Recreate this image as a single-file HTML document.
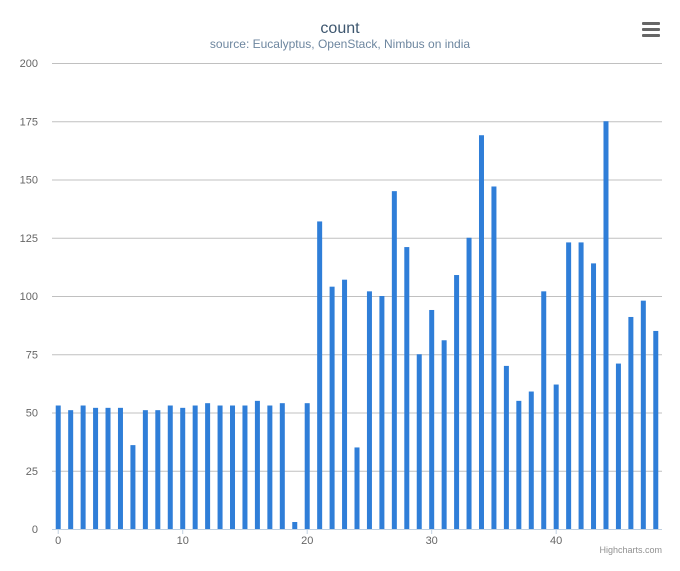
<!DOCTYPE html>
<html><head><meta charset="utf-8"><style>
body{margin:0;background:#fff;font-family:"Liberation Sans","DejaVu Sans",sans-serif}
</style></head><body>
<svg width="680" height="566" xmlns="http://www.w3.org/2000/svg">
<rect width="680" height="566" fill="#fff"/>
<text x="340" y="33" text-anchor="middle" font-size="16" fill="#3e576f">count</text>
<text x="340" y="48" text-anchor="middle" font-size="12" fill="#6d869f">source: Eucalyptus, OpenStack, Nimbus on india</text>
<g>
<rect x="642" y="22" width="18" height="3" rx="1" fill="#666"/><rect x="642" y="28" width="18" height="3" rx="1" fill="#666"/><rect x="642" y="34" width="18" height="3" rx="1" fill="#666"/>
</g>
<g id="grid"></g><g id="bars"></g><g id="labels"></g>
<text x="662" y="553" text-anchor="end" font-size="9" fill="#909090">Highcharts.com</text>
</svg>
<script>
const values=[53,51,53,52,52,52,36,51,51,53,52,53,54,53,53,53,55,53,54,3,54,132,104,107,35,102,100,145,121,75,94,81,109,125,169,147,70,55,59,102,62,123,123,114,175,71,91,98,85];
const yTicks=[0,25,50,75,100,125,150,175,200];
const xTicks=[0,10,20,30,40];
const NS="http://www.w3.org/2000/svg";
const L=52,R=662,T=63,B=529,yMax=200;
const bw=(R-L)/values.length;
const y=v=>B-(v/yMax)*(B-T);
const x=i=>L+(i+0.5)*bw;
function mk(t,a,p){const e=document.createElementNS(NS,t);for(const k in a)e.setAttribute(k,a[k]);p.appendChild(e);return e;}
const g=document.getElementById('grid'),b=document.getElementById('bars'),lb=document.getElementById('labels');
yTicks.forEach(v=>{
 const l=mk('line',{x1:L,x2:R,y1:y(v)+0.5,y2:y(v)+0.5,stroke:v===0?'#c0d0e0':'#c0c0c0','stroke-width':1},g);
 
 
 const t=mk('text',{x:38,y:y(v)+4,'text-anchor':'end','font-size':11,fill:'#666'},lb);t.textContent=v;
 
 
});
xTicks.forEach(v=>{
 const t=mk('text',{x:x(v),y:544,'text-anchor':'middle','font-size':11,fill:'#666'},lb);t.textContent=v;
 
 
 mk('line',{x1:x(v),x2:x(v),y1:B,y2:B+5,stroke:'#c0d0e0'},lb);
});
values.forEach((v,i)=>{
 const r=mk('rect',{x:x(i)-2.5,y:y(v),width:5,height:B-y(v),fill:'#2f7ed8'},b);
 
 
});
</script>
</body></html>
